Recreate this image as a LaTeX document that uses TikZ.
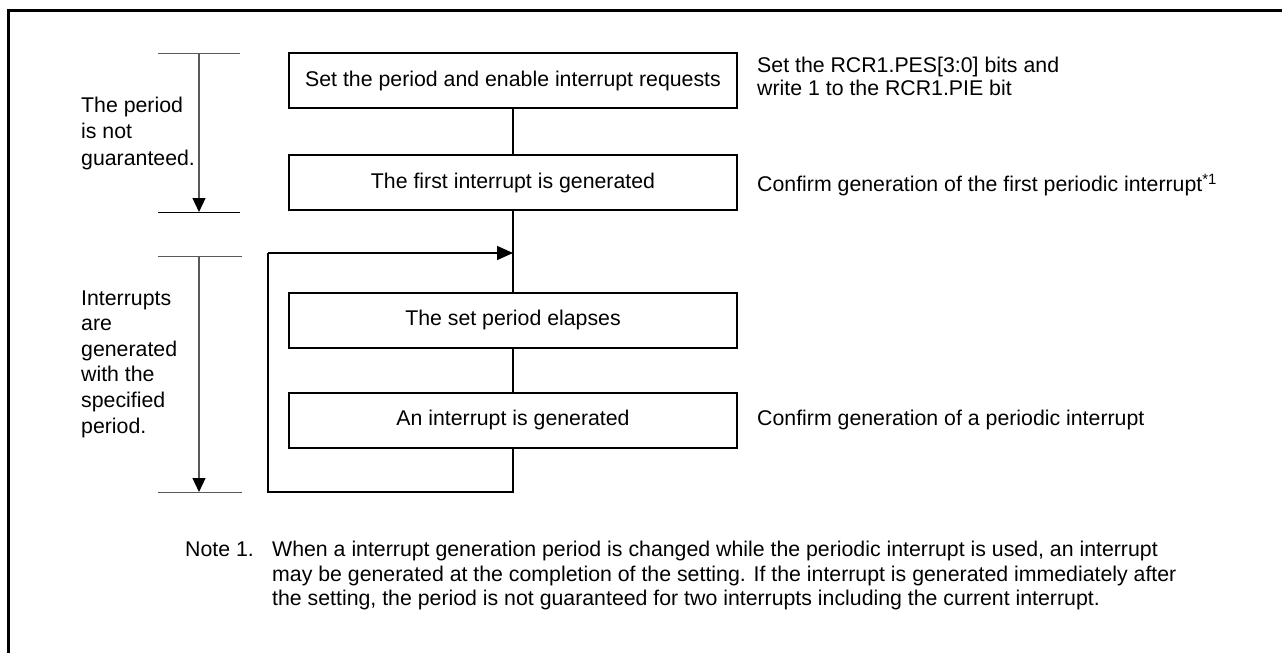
\documentclass[tikz,border=0pt]{standalone}
\usepackage{fontspec}
\setmainfont{Liberation Sans}
\usetikzlibrary{arrows.meta}
\tikzset{
  txt/.style={font=\fontsize{21.3pt}{26pt}\selectfont},
  stepbox/.style={txt, draw, line width=2pt, minimum width=448pt, minimum height=55pt, inner sep=0pt},
  conn/.style={line width=1.5pt},
  side/.style={txt, anchor=west, align=left, inner sep=0pt},
  noteline/.style={txt, anchor=base west, inner sep=0pt},
  brk/.style={line width=1pt, gray!70!black},
  brkarrow/.style={line width=1.2pt, gray!70!black, -{Triangle[length=14pt,width=13pt,fill=black,color=black]}},
  looparrow/.style={line width=1.5pt, -{Triangle[length=16pt,width=14pt]}}
}
\begin{document}
\begin{tikzpicture}[x=1pt,y=-1pt]
\useasboundingbox (0,0) rectangle (1282,653);
% frame (top and left edges visible)
\draw[line width=3pt] (8,653) -- (8,10) -- (1282,10);
% boxes
\node[stepbox] (b1) at (513,80.5) {Set the period and enable interrupt requests};
\node[stepbox] (b2) at (513,182.5) {The first interrupt is generated};
\node[stepbox] (b3) at (513,320) {The set period elapses};
\node[stepbox] (b4) at (513,420) {An interrupt is generated};
% connectors
\coordinate (j) at (513,253);
\coordinate (lb) at (513,492);
\coordinate (ll) at (268,492);
\coordinate (lt) at (268,253);
\draw[conn] (b1.south) -- (b2.north);
\draw[conn] (b2.south) -- (b3.north);
\draw[conn] (b3.south) -- (b4.north);
\draw[conn] (b4.south) -- (lb) -- (ll) -- (lt);
\draw[looparrow] (lt) -- (j);
% right notes
\node[side, font=\fontsize{21.3pt}{23pt}\selectfont] (r1) at (757,76) {Set the RCR1.PES[3:0] bits and\\write 1 to the RCR1.PIE bit};
\node[side] (r2) at (757,185) {Confirm generation of the first periodic interrupt\textsuperscript{*1}};
\node[side] (r4) at (757,420) {Confirm generation of a periodic interrupt};
% left brackets
\coordinate (t1a) at (158,53);
\coordinate (t1b) at (240,53);
\coordinate (b1a) at (158,212);
\coordinate (b1b) at (240,212);
\coordinate (a1s) at (199,53);
\coordinate (a1e) at (199,212);
\draw[brk] (t1a) -- (t1b);
\draw[line width=1pt] (b1a) -- (b1b);
\draw[brkarrow] (a1s) -- (a1e);
\coordinate (t2a) at (158,256);
\coordinate (t2b) at (242,256);
\coordinate (b2a) at (158,492);
\coordinate (b2b) at (242,492);
\coordinate (a2s) at (199,256);
\coordinate (a2e) at (199,492);
\draw[brk] (t2a) -- (t2b);
\draw[brk] (b2a) -- (b2b);
\draw[brkarrow] (a2s) -- (a2e);
\node[side, font=\fontsize{21.3pt}{26.5pt}\selectfont] (l1) at (81,133) {The period\\is not\\guaranteed.};
\node[side, font=\fontsize{21.3pt}{25.6pt}\selectfont] (l2) at (81,364) {Interrupts\\are\\generated\\with the\\specified\\period.};
% note
\node[noteline] (n0) at (185,556.5) {Note 1.};
\node[noteline] (n1) at (272,556.5) {When a interrupt generation period is changed while the periodic interrupt is used, an interrupt};
\node[noteline] (n2) at (272,581) {may be generated at the completion of the setting. If the interrupt is generated immediately after};
\node[noteline] (n3) at (272,605.5) {the setting, the period is not guaranteed for two interrupts including the current interrupt.};
\end{tikzpicture}
\end{document}
